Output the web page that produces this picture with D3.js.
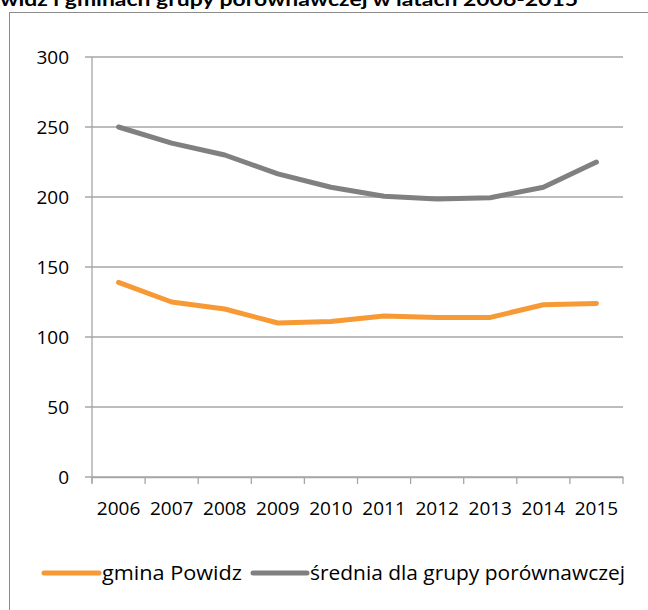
<!DOCTYPE html>
<html>
<head>
<meta charset="utf-8">
<script src="https://cdn.jsdelivr.net/npm/d3@7"></script>
<style>
  body { margin: 0; background: #fff; }
  svg { display: block; }
</style>
</head>
<body>
<svg id="chart"></svg>
<script>
// dane
const years = ['2006', '2007', '2008', '2009', '2010', '2011', '2012', '2013', '2014', '2015'];
const powidz = [139, 125, 120, 110, 111, 115, 114, 114, 123, 124];
const srednia = [250, 238.5, 230, 216.5, 207, 200.5, 198.5, 199.5, 207, 225];
const yTicks = [0, 50, 100, 150, 200, 250, 300];
const seriesNames = ['gmina Powidz', 'średnia dla grupy porównawczej'];
const seriesColors = ['#F79A36', '#808080'];
const titleText = 'widz i gminach grupy porównawczej w latach 2006-2015';

const W = 648, H = 610;
const margin = { left: 92, right: 25, top: 57, bottom: 133 };

const svg = d3.select('#chart').attr('width', W).attr('height', H);

// tytul (uciety u gory, jak w oryginale)
svg.append('text')
  .attr('x', 0)
  .attr('y', 6)
  .attr('font-family', 'Lato, "Open Sans", sans-serif')
  .attr('font-weight', 'bold')
  .attr('font-size', 18)
  .attr('textLength', 578)
  .attr('lengthAdjust', 'spacingAndGlyphs')
  .attr('fill', '#000')
  .text(titleText);

// ramka wykresu
svg.append('rect')
  .attr('x', 9.5)
  .attr('y', 12.5)
  .attr('width', 700)
  .attr('height', 700)
  .attr('fill', 'none')
  .attr('stroke', '#8c8c8c')
  .attr('stroke-width', 1);

// skale
const x = d3.scaleBand()
  .domain(years)
  .range([margin.left, W - margin.right]);

const y = d3.scaleLinear()
  .domain([0, 300])
  .range([H - margin.bottom, margin.top]);

// linie siatki
svg.append('g')
  .selectAll('line')
  .data(yTicks)
  .join('line')
  .attr('x1', margin.left - 7)
  .attr('x2', W - margin.right)
  .attr('y1', d => y(d))
  .attr('y2', d => y(d))
  .attr('stroke', '#a6a6a6')
  .attr('stroke-width', 1.3);

// os Y
svg.append('line')
  .attr('x1', margin.left).attr('x2', margin.left)
  .attr('y1', y(300)).attr('y2', y(0) + 6)
  .attr('stroke', '#a6a6a6').attr('stroke-width', 1.3);

svg.append('g')
  .selectAll('text')
  .data(yTicks)
  .join('text')
  .attr('x', 69)
  .attr('y', d => y(d))
  .attr('dy', '0.35em')
  .attr('text-anchor', 'end')
  .attr('font-family', '"Open Sans", sans-serif')
  .attr('font-size', 19)
  .attr('fill', '#000')
  .text(d => d);

// os X
const xAxis = d3.axisBottom(x).tickSize(0).tickPadding(0);
const gx = svg.append('g')
  .attr('transform', `translate(0,${y(0)})`)
  .call(xAxis);
gx.select('.domain').attr('stroke', '#a6a6a6').attr('stroke-width', 1.3);
gx.selectAll('text')
  .attr('y', 38)
  .attr('dy', 0)
  .attr('font-family', '"Open Sans", sans-serif')
  .attr('font-size', 19)
  .attr('fill', '#000');

// znaczniki kategorii
svg.append('g')
  .selectAll('line')
  .data(years.concat(['end']))
  .join('line')
  .attr('x1', (d, i) => i < years.length ? x(d) : x(years[years.length - 1]) + x.bandwidth())
  .attr('x2', (d, i) => i < years.length ? x(d) : x(years[years.length - 1]) + x.bandwidth())
  .attr('y1', y(0))
  .attr('y2', y(0) + 7)
  .attr('stroke', '#a6a6a6')
  .attr('stroke-width', 1.3);

// serie
const line = d3.line()
  .x((d, i) => x(years[i]) + x.bandwidth() / 2)
  .y(d => y(d));

[powidz, srednia].forEach((vals, k) => {
  svg.append('path')
    .datum(vals)
    .attr('fill', 'none')
    .attr('stroke', seriesColors[k])
    .attr('stroke-width', 5)
    .attr('stroke-linecap', 'round')
    .attr('stroke-linejoin', 'round')
    .attr('d', line);
});

// legenda
const legendItems = [
  { x1: 44, x2: 99, tx: 102, w: 140 },
  { x1: 253, x2: 307, tx: 310, w: 315 }
];
const ly = 573;
legendItems.forEach((it, k) => {
  svg.append('line')
    .attr('x1', it.x1).attr('x2', it.x2)
    .attr('y1', ly).attr('y2', ly)
    .attr('stroke', seriesColors[k])
    .attr('stroke-width', 5)
    .attr('stroke-linecap', 'round');
  svg.append('text')
    .attr('x', it.tx)
    .attr('y', ly)
    .attr('dy', '0.35em')
    .attr('font-family', '"Open Sans", sans-serif')
    .attr('font-size', 20)
    .attr('textLength', it.w)
    .attr('lengthAdjust', 'spacingAndGlyphs')
    .attr('fill', '#000')
    .text(seriesNames[k]);
});
</script>
</body>
</html>
